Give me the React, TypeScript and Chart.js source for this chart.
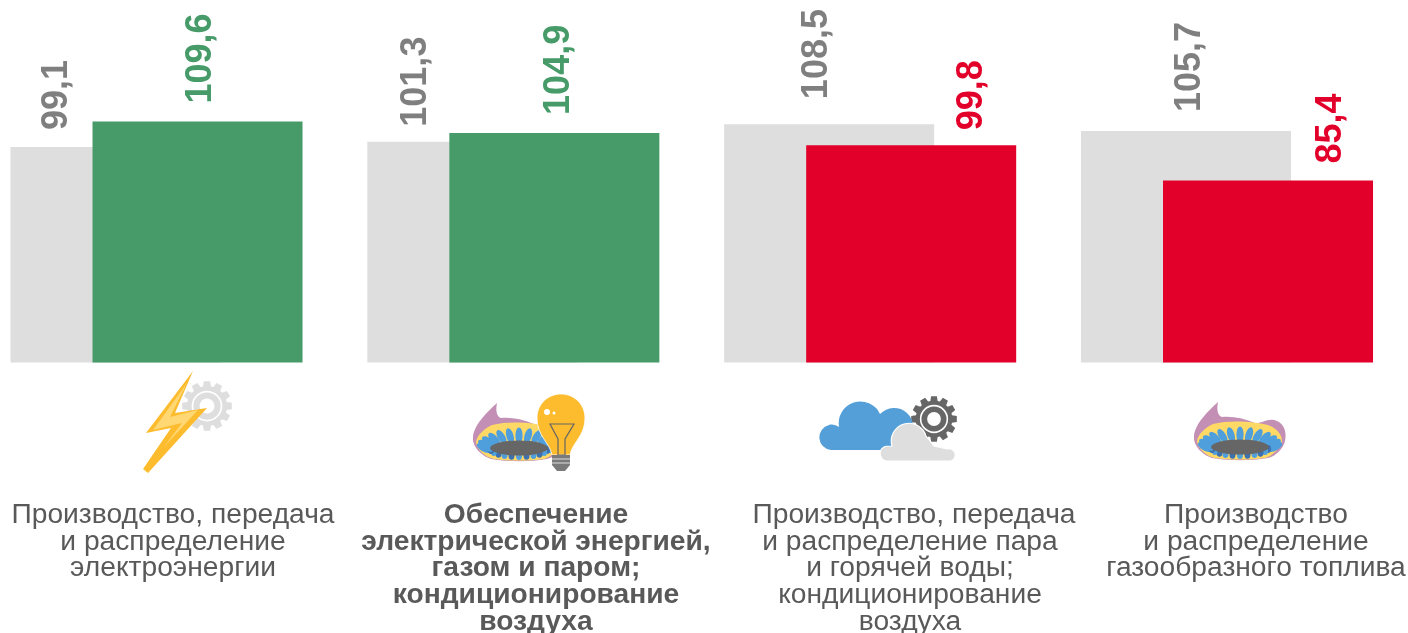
import React, { useEffect, useRef } from "react";
import { Chart, registerables } from "chart.js";

Chart.register(...registerables);

const categories = ["electricity", "supply", "steam", "gas"];
const baseValues = [99.1, 101.3, 108.5, 105.7];
const currentValues = [109.6, 104.9, 99.8, 85.4];
const captionLines = [
  ["Производство, передача", "и распределение", "электроэнергии"],
  ["Обеспечение", "электрической энергией,", "газом и паром;", "кондиционирование", "воздуха"],
  ["Производство, передача", "и распределение пара", "и горячей воды;", "кондиционирование", "воздуха"],
  ["Производство", "и распределение", "газообразного топлива"],
];

const GREEN = "#469B69";
const RED = "#E2002B";
const LIGHT = "#DEDEDE";
const currentColors = [GREEN, GREEN, RED, RED];
const baseLabelShift = [-62, -60, -16, 0];
const baseLabelGap = [17, 15, 25, 19];
const currentLabelShift = [0, 1, 57, 59];
const currentLabelGap = [18, 18, 15, 17];
const captionCenters = [173, 536, 910, 1256];
const captionFirstLineShift = [0, 0, 4, 0];

const fmt = (v: number) => v.toFixed(1).replace(".", ",");

// Chart.js paints the first dataset last; the current-year bars must lie on top of the base bars.
const drawOrderPlugin = {
  id: "drawOrder",
  beforeDatasetDraw(_chart: any, args: any) {
    if (args.index === 1) return false;
  },
  afterDatasetDraw(chart: any, args: any) {
    if (args.index === 0) chart.getDatasetMeta(1).controller.draw();
  },
};

const overlayPlugin = {
  id: "overlayText",
  afterDatasetsDraw(chart: any) {
    const ctx = chart.ctx;
    ctx.save();
    ctx.font = "bold 36px 'Liberation Sans'";
    ctx.textAlign = "left";
    ctx.textBaseline = "middle";
    chart.data.datasets.forEach((ds: any, di: number) => {
      chart.getDatasetMeta(di).data.forEach((bar: any, i: number) => {
        const shift = di === 0 ? baseLabelShift[i] : currentLabelShift[i];
        const gap = di === 0 ? baseLabelGap[i] : currentLabelGap[i];
        ctx.save();
        ctx.translate(bar.x + shift + 3, bar.y - gap);
        ctx.rotate(-Math.PI / 2);
        ctx.fillStyle = di === 0 ? "#7F7F7F" : currentColors[i];
        ctx.fillText(fmt(ds.data[i]), 0, 1);
        ctx.restore();
      });
    });
    ctx.textAlign = "center";
    ctx.fillStyle = "#595959";
    captionLines.forEach((lines, i) => {
      ctx.font = (i === 1 ? "bold " : "") + "28.2px 'Liberation Sans'";
      lines.forEach((line, k) => {
        const x = captionCenters[i] + (k === 0 ? captionFirstLineShift[i] : 0);
        ctx.fillText(line, x, 515 + k * 26.75);
      });
    });
    ctx.restore();
  },
};

function gearPath(cx: number, cy: number, rOut: number, rIn: number, teeth: number) {
  const pts: string[] = [];
  const step = (Math.PI * 2) / teeth;
  for (let t = 0; t < teeth; t++) {
    const a = t * step;
    const p = [
      [rIn, a - step * 0.38],
      [rOut, a - step * 0.24],
      [rOut, a + step * 0.24],
      [rIn, a + step * 0.38],
    ];
    p.forEach(([r, an]) => pts.push(`${(cx + r * Math.cos(an)).toFixed(2)},${(cy + r * Math.sin(an)).toFixed(2)}`));
  }
  return "M" + pts.join("L") + "Z";
}

function Gear({ cx, cy, r, color }: { cx: number; cy: number; r: number; color: string }) {
  return (
    <g>
      <path d={gearPath(cx, cy, r, r * 0.8, 12)} fill={color} />
      <circle cx={cx} cy={cy} r={r * 0.58} fill="none" stroke="#fff" strokeWidth={r * 0.07} />
      <circle cx={cx} cy={cy} r={r * 0.3} fill="#fff" />
    </g>
  );
}

function Burner({ dx, dy }: { dx: number; dy: number }) {
  const idx = Array.from({ length: 13 }, (_, i) => i);
  const cx = 1240;
  const cy = 447;
  return (
    <g transform={`translate(${dx} ${dy})`}>
      <path
        d="M1218 402 C1216 412 1219 416 1222 417 C1232 416 1243 418 1255 423 C1262 424 1268 417 1277 421 C1284 424 1287 432 1285 441 C1283 449 1276 456 1268 458 C1250 461 1230 461 1212 458 C1203 455 1193 446 1194 436 C1195 424 1208 411 1218 402 Z"
        fill="#C48FB5"
      />
      <path
        d="M1197 441 C1198 434 1205 428 1213 424 C1228 420 1252 421 1268 425 C1276 428 1282 434 1282 441 C1280 449 1272 456 1265 458 C1248 460 1232 460 1215 458 C1206 456 1198 449 1197 441 Z"
        fill="#FFD966"
      />
      {idx.map((i) => {
        const a = Math.PI + (i / 12) * Math.PI;
        const px = cx + Math.cos(a) * 35;
        const py = cy + Math.sin(a) * 12.5;
        const rot = (Math.cos(a) * 62).toFixed(1);
        return <ellipse key={i} cx={px} cy={py} rx={3.6} ry={8} fill="#4F9FDC" transform={`rotate(${rot} ${px} ${py})`} />;
      })}
      {idx.map((i) => {
        const a = (i / 12) * Math.PI;
        const px = cx + Math.cos(a) * 29;
        const py = cy + Math.sin(a) * 8;
        return <ellipse key={"b" + i} cx={px} cy={py} rx={3} ry={4} fill={i % 2 ? "#3C6FB0" : "#4F9FDC"} />;
      })}
      <ellipse cx={cx} cy={cy} rx={29} ry={7.5} fill="#666666" />
    </g>
  );
}

function Icons() {
  return (
    <svg width={1408} height={633} style={{ position: "absolute", left: 0, top: 0, pointerEvents: "none" }}>
      <defs>
        <filter id="soft" x="-5%" y="-5%" width="110%" height="110%">
          <feGaussianBlur stdDeviation="0.45" />
        </filter>
      </defs>
      <g filter="url(#soft)">
        <Gear cx={207} cy={406} r={25} color={LIGHT} />
        <path d="M193 371 L146 433 L171 428 L143 469 L148 473 L207 408 L175 413 Z" fill="#FDBB2D" />
        <path d="M187 383 L153 430 L182 423 L163 448 L198 410 L170 417 Z" fill="#FFD773" />

        <Burner dx={-721} dy={1} />
        <path
          d="M552 455 C550 443 537 436 537 418 C537 404 548 394 561 394 C574 394 585 404 585 418 C585 436 572 443 570 455 Z"
          fill="#FDBB2D"
          stroke="#fff"
          strokeWidth={0.8}
        />
        <circle cx={547} cy={412} r={3} fill="#fff" />
        <circle cx={554} cy={413} r={1.5} fill="#fff" />
        <path d="M550 424 L574 424 L565 439 L565 455 L558 455 L558 439 Z" fill="none" stroke="#666" strokeWidth={1.2} />
        <path d="M552 455 H570 V465 L565 471 H557 L552 465 Z" fill="#7a7a7a" />
        <path d="M552 459 H570 M552 463 H570" stroke="#ddd" strokeWidth={1} />

        <Gear cx={934} cy={419} r={23} color="#666666" />
        <path
          d="M831 450 A12.7 12.7 0 0 1 829 425 C832 424 836 425 839 427 A21.7 21.7 0 0 1 880 414 A18 18 0 0 1 908 440 L905 450 Z"
          fill="#549FD9"
        />
        <path
          d="M888 461 A7.5 7.5 0 0 1 884 447 C886 446 890 446 892 446 A17.5 17.5 0 0 1 926 436 C930 441 932 443 934 446 L947 449 A6 6 0 0 1 951 461 Z"
          fill={LIGHT}
          stroke="#fff"
          strokeWidth={1.2}
        />

        <Burner dx={0} dy={0} />
      </g>
    </svg>
  );
}

export default function App() {
  const ref = useRef<HTMLCanvasElement>(null);
  useEffect(() => {
    const chart = new Chart(ref.current!, {
      type: "bar",
      data: {
        labels: categories,
        datasets: [
          { data: baseValues, backgroundColor: LIGHT, clip: false, base: 10.7 } as any,
          { data: currentValues, backgroundColor: currentColors, clip: false, base: 10.7 } as any,
        ],
      },
      options: {
        responsive: false,
        animation: false,
        layout: { padding: { left: 156.5, right: 181, top: 23, bottom: 270.5 } },
        datasets: { bar: { categoryPercentage: 0.4598, barPercentage: 2.56 } },
        plugins: { legend: { display: false }, tooltip: { enabled: false } },
        scales: {
          x: { display: false, offset: false },
          y: { display: false, min: 10.7, max: 150 },
        },
      },
      plugins: [drawOrderPlugin, overlayPlugin],
    });
    return () => chart.destroy();
  }, []);
  return (
    <div style={{ position: "absolute", left: 0, top: 0, width: 1408, height: 633, overflow: "hidden" }}>
      <canvas ref={ref} width={1408} height={633} style={{ display: "block" }} />
      <Icons />
    </div>
  );
}
